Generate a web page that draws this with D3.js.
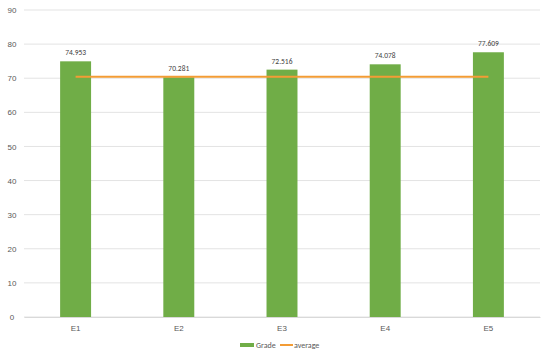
<!DOCTYPE html>
<html><head><meta charset="utf-8">
<script src="https://cdn.jsdelivr.net/npm/d3@7"></script>
<style>body{margin:0;background:#fff;} svg{display:block;font-family:Calibri,"Liberation Sans","DejaVu Sans",sans-serif;}</style>
</head><body><svg id="c" width="550" height="355"></svg>
<script>
const categories = ["E1","E2","E3","E4","E5"];
const grades = [74.953, 70.281, 72.516, 74.078, 77.609];
const averageValue = 70.4;
const yTicks = [0,10,20,30,40,50,60,70,80,90];
const seriesNames = ["Grade","average"];

const svg = d3.select("#c");
const m = {l:24, r:10, t:10, b:38};
const W = 550, H = 355;
const x = d3.scaleBand().domain(categories).range([m.l, W-m.r]).paddingInner(0.7).paddingOuter(0.35);
const y = d3.scaleLinear().domain([0,90]).range([H-m.b, m.t]);

// gridlines
svg.append("g").selectAll("line").data(yTicks).join("line")
  .attr("x1", m.l).attr("x2", W-m.r)
  .attr("y1", d=>y(d)).attr("y2", d=>y(d))
  .attr("stroke", "#e3e3e3").attr("stroke-width", 1);

// y axis labels
const yAxis = d3.axisLeft(y).tickValues(yTicks).tickSize(0).tickPadding(0);
const ya = svg.append("g").attr("transform", `translate(${m.l-6},0)`).call(yAxis);
ya.select(".domain").remove();
ya.selectAll("text").attr("fill","#595959").attr("font-size","8px").attr("text-anchor","middle").attr("x",-6);

// x axis
const xAxis = d3.axisBottom(x).tickSize(0).tickPadding(8);
const xa = svg.append("g").attr("transform", `translate(0,${y(0)})`).call(xAxis);
xa.select(".domain").attr("stroke","#d9d9d9");
xa.selectAll("text").attr("fill","#595959").attr("font-size","8px");

// bars
svg.append("g").selectAll("rect").data(grades).join("rect")
  .attr("x", (d,i)=>x(categories[i]))
  .attr("width", x.bandwidth())
  .attr("y", d=>y(d))
  .attr("height", d=>y(0)-y(d))
  .attr("fill", "#70ad47");

// value labels
svg.append("g").selectAll("text").data(grades).join("text")
  .attr("x", (d,i)=>x(categories[i])+x.bandwidth()/2)
  .attr("y", d=>y(d)-6)
  .attr("text-anchor","middle")
  .attr("font-size","7.5px").attr("fill","#404040")
  .text(d=>d3.format(".3f")(d));

// average line
const line = d3.line().x(d=>x(d)+x.bandwidth()/2).y(()=>y(averageValue));
svg.append("path").datum(categories).attr("d", line)
  .attr("fill","none").attr("stroke","#f39c35").attr("stroke-width",2);

// legend
const lg = svg.append("g");
lg.append("rect").attr("x",240).attr("y",343).attr("width",14).attr("height",4).attr("fill","#70ad47");
lg.append("text").attr("x",256).attr("y",348).attr("font-size","8px").attr("fill","#595959").text(seriesNames[0]);
lg.append("line").attr("x1",280).attr("x2",293).attr("y1",345).attr("y2",345).attr("stroke","#f39c35").attr("stroke-width",2);
lg.append("text").attr("x",294).attr("y",348).attr("font-size","8px").attr("fill","#595959").text(seriesNames[1]);
</script></body></html>
